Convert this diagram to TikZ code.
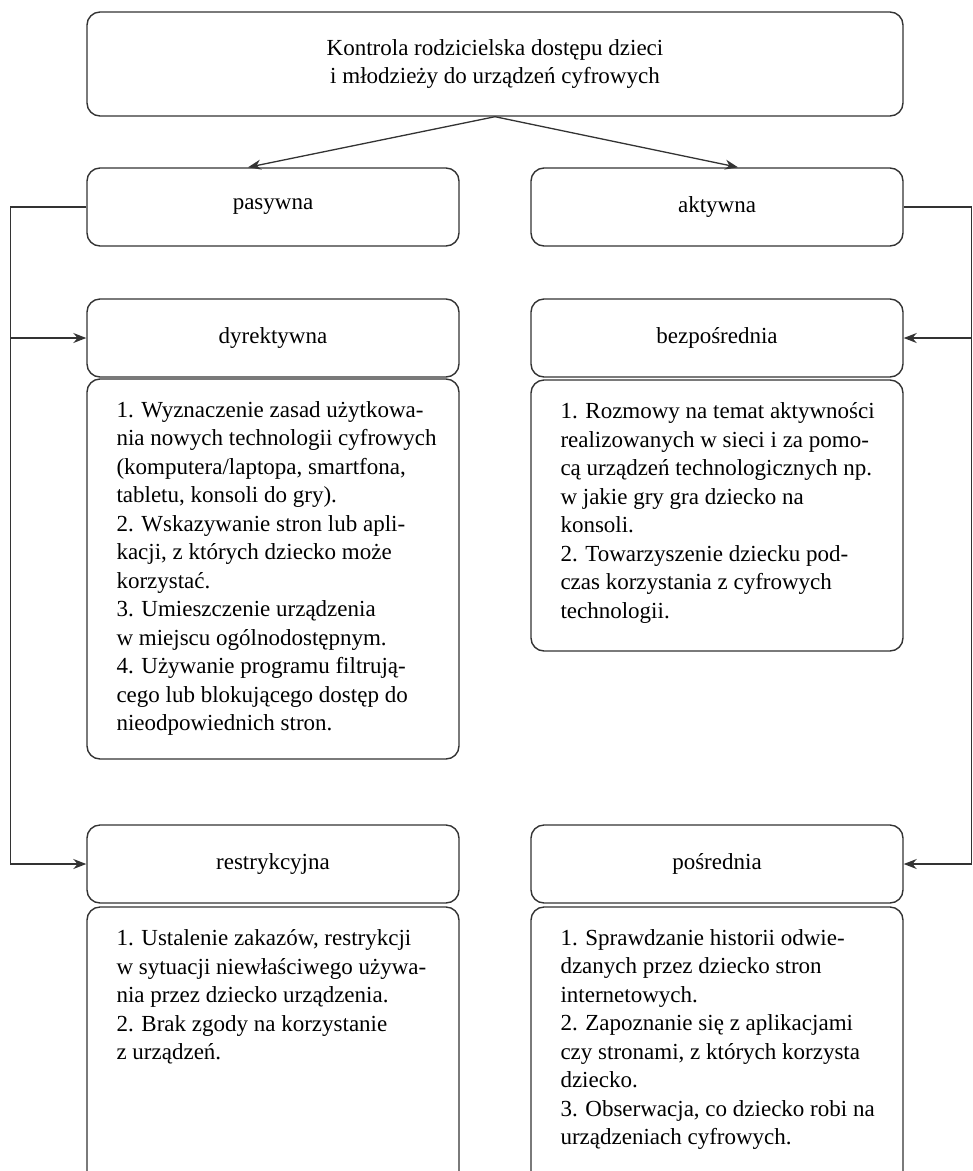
\documentclass[tikz,border=0pt]{standalone}
\usepackage{fontspec}
\setmainfont{Liberation Serif}
\usetikzlibrary{arrows.meta,calc}
\begin{document}
\begin{tikzpicture}[x=1pt,y=-1pt,
  box/.style={draw=black!80,line width=1.4pt,rounded corners=13pt,minimum width=372pt,inner sep=0pt},
  hdr/.style={box,minimum height=78pt,font=\fontsize{23}{28.5}\selectfont},
  txt/.style={anchor=north west,inner sep=0pt,align=left,font=\fontsize{23}{28.5}\selectfont},
  conn/.style={draw=black!80,line width=1.3pt},
  arr/.style={conn,-{Stealth[length=13pt,width=10pt]}}]
\useasboundingbox (0,0) rectangle (973,1171);
\node[box,minimum width=816pt,minimum height=104pt,align=center,font=\fontsize{23}{28.5}\selectfont] (top) at (495,64)
  {Kontrola rodzicielska dostępu dzieci\\i młodzieży do urządzeń cyfrowych};
\node[hdr] (pas) at (273,207) {pasywna};
\node[hdr] (akt) at (717,207) {aktywna};
\node[hdr] (dyr) at (273,338) {dyrektywna};
\node[hdr] (bez) at (717,338) {bezpośrednia};
\node[box,minimum height=380pt] (dyrT) at (273,569) {};
\node[box,minimum height=271pt] (bezT) at (717,515.5) {};
\node[hdr] (res) at (273,864) {restrykcyjna};
\node[hdr] (pos) at (717,864) {pośrednia};
\node[box,minimum height=280pt] (resT) at (273,1047) {};
\node[box,minimum height=280pt] (posT) at (717,1047) {};

\node[txt] (dyrX) at ($(dyrT.north west)+(30,23)$) {1. Wyznaczenie zasad użytkowa-\\nia nowych technologii cyfrowych\\(komputera/laptopa, smartfona,\\tabletu, konsoli do gry).\\2. Wskazywanie stron lub apli-\\kacji, z których dziecko może\\korzystać.\\3. Umieszczenie urządzenia\\w miejscu ogólnodostępnym.\\4. Używanie programu filtrują-\\cego lub blokującego dostęp do\\nieodpowiednich stron.};
\node[txt] (bezX) at ($(bezT.north west)+(30,23)$) {1. Rozmowy na temat aktywności\\realizowanych w sieci i za pomo-\\cą urządzeń technologicznych np.\\w jakie gry gra dziecko na\\konsoli.\\2. Towarzyszenie dziecku pod-\\czas korzystania z cyfrowych\\technologii.};
\node[txt] (resX) at ($(resT.north west)+(30,23)$) {1. Ustalenie zakazów, restrykcji\\w sytuacji niewłaściwego używa-\\nia przez dziecko urządzenia.\\2. Brak zgody na korzystanie\\z urządzeń.};
\node[txt] (posX) at ($(posT.north west)+(30,23)$) {1. Sprawdzanie historii odwie-\\dzanych przez dziecko stron\\internetowych.\\2. Zapoznanie się z aplikacjami\\czy stronami, z których korzysta\\dziecko.\\3. Obserwacja, co dziecko robi na\\urządzeniach cyfrowych.};

\draw[arr] (top.south) -- ($(pas.north)+(-25,0)$);
\draw[arr] (top.south) -- ($(akt.north)+(21,0)$);

\coordinate (lt) at ($(pas.west)+(-76,0)$);
\coordinate (lb) at (lt |- res.west);
\draw[conn] (pas.west) -- (lt) -- (lb);
\draw[arr] (lb) -- (res.west);
\draw[arr] (lt |- dyr.west) -- (dyr.west);

\coordinate (rt) at ($(akt.east)+(68,0)$);
\coordinate (rb) at (rt |- pos.east);
\draw[conn] (akt.east) -- (rt) -- (rb);
\draw[arr] (rb) -- (pos.east);
\draw[arr] (rt |- bez.east) -- (bez.east);
\end{tikzpicture}
\end{document}
